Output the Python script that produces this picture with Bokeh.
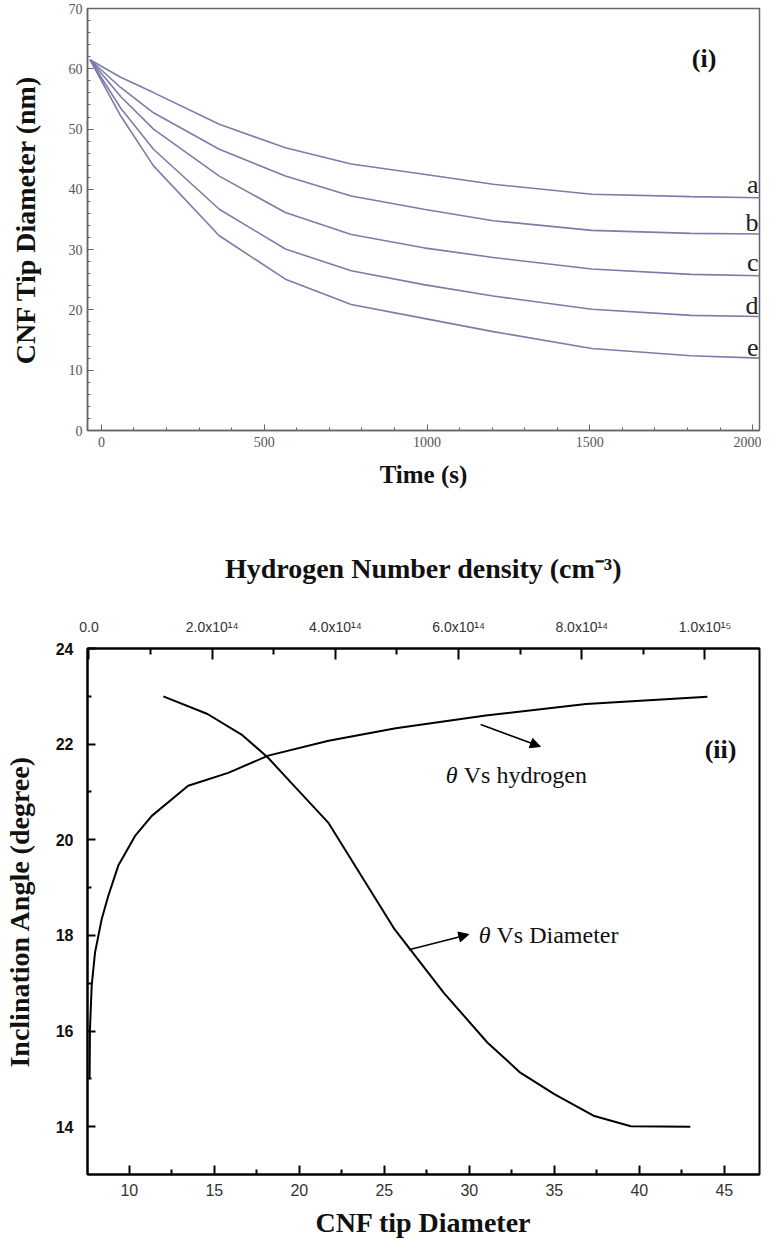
from bokeh.plotting import figure
from bokeh.models import Range1d, LinearAxis, FixedTicker, Label, Arrow, NormalHead
from bokeh.layouts import column
from bokeh.embed import file_html
from bokeh.resources import INLINE

# ---------------- Panel (i): CNF tip diameter vs time ----------------
time_s = [-35, 59, 160, 362, 565, 767, 990, 1203, 1506, 1810, 2030]
diam_a = [61.5, 58.6, 56.05, 50.8, 46.9, 44.2, 42.5, 40.85, 39.2, 38.8, 38.6]
diam_b = [61.5, 56.9, 52.7, 46.65, 42.2, 38.9, 36.7, 34.8, 33.2, 32.7, 32.6]
diam_c = [61.5, 55.4, 50.0, 42.2, 36.15, 32.5, 30.3, 28.7, 26.8, 25.9, 25.65]
diam_d = [61.5, 53.5, 46.65, 36.7, 30.1, 26.5, 24.2, 22.3, 20.1, 19.1, 18.9]
diam_e = [61.5, 52.2, 43.9, 32.3, 25.1, 20.9, 18.6, 16.4, 13.6, 12.4, 12.0]
curve_names = ["a", "b", "c", "d", "e"]
curve_label_y = [40.8, 34.5, 27.8, 20.7, 13.8]

time_major = [0, 500, 1000, 1500, 2000]
time_minor = [t for t in range(100, 2000, 100) if t % 500 != 0]
diam_major = [0, 10, 20, 30, 40, 50, 60, 70]
diam_minor = [v for v in range(2, 70, 2) if v % 10 != 0]

# ---------------- Panel (ii): inclination angle ----------------
diameter_nm = [12.0, 14.6, 16.6, 18.15, 19.5, 21.7, 25.6, 28.5, 31.06, 33.0, 35.0, 37.3, 39.5, 43.0]
theta_vs_diameter = [23.0, 22.63, 22.2, 21.72, 21.2, 20.36, 18.13, 16.8, 15.76, 15.13, 14.68, 14.23, 14.01, 14.0]

hydrogen_1e14 = [0.01, 0.016, 0.044, 0.098, 0.206, 0.314, 0.476, 0.748, 1.02, 1.61, 2.26, 2.91, 3.89, 4.98, 6.44, 8.07, 10.04]
theta_vs_hydrogen = [15.0, 16.04, 16.95, 17.64, 18.34, 18.83, 19.46, 20.08, 20.5, 21.13, 21.4, 21.76, 22.07, 22.33, 22.6, 22.84, 22.99]

dia_major = [10, 15, 20, 25, 30, 35, 40, 45]
dia_minor = [12.5, 17.5, 22.5, 27.5, 32.5, 37.5, 42.5]
ang_major = [14, 16, 18, 20, 22, 24]
ang_minor = [15, 17, 19, 21, 23]
h_major = [0, 2, 4, 6, 8, 10]
h_minor = [1, 3, 5, 7, 9]
h_labels = {0: "0.0", 2: "2.0x10\u00b9\u2074", 4: "4.0x10\u00b9\u2074", 6: "6.0x10\u00b9\u2074",
            8: "8.0x10\u00b9\u2074", 10: "1.0x10\u00b9\u2075"}

SERIF = "Liberation Serif"
SANS = "Liberation Sans"

# ================= figure 1 =================
p1 = figure(width=761, height=496, x_range=Range1d(-42.7, 2021), y_range=Range1d(0, 70),
            output_backend="svg", toolbar_location=None,
            min_border_left=82, min_border_right=2, min_border_top=8, min_border_bottom=66)
p1.grid.visible = False
p1.outline_line_color = "#666666"
p1.outline_line_width = 1.5

x1 = p1.below[0]
y1 = p1.left[0]
for ax in (x1, y1):
    ax.axis_line_color = "#666666"
    ax.axis_line_width = 1.5
    ax.major_tick_line_color = "#666666"
    ax.minor_tick_line_color = "#666666"
    ax.major_tick_out = 0
    ax.minor_tick_out = 0
    ax.major_tick_in = 6
    ax.minor_tick_in = 3
    ax.major_label_text_font = SERIF
    ax.major_label_text_font_size = "14px"
    ax.major_label_text_color = "#555555"
    ax.axis_label_text_font = SERIF
    ax.axis_label_text_font_style = "bold"
    ax.axis_label_text_color = "#111111"

x1.ticker = FixedTicker(ticks=time_major, minor_ticks=time_minor)
y1.ticker = FixedTicker(ticks=diam_major, minor_ticks=diam_minor)
x1.major_label_standoff = 6
y1.major_label_standoff = 5
x1.axis_label = "Time (s)"
x1.axis_label_text_font_size = "25px"
x1.axis_label_standoff = 11
y1.axis_label = "CNF Tip Diameter (nm)"
y1.axis_label_text_font_size = "28px"
y1.axis_label_standoff = 25

for ys in (diam_a, diam_b, diam_c, diam_d, diam_e):
    p1.line(time_s, ys, line_color="#7c7ca8", line_width=1.6)

for name, ly in zip(curve_names, curve_label_y):
    p1.add_layout(Label(x=2021, y=ly, text=name, text_align="right", text_baseline="middle",
                        x_offset=-1, text_font=SERIF, text_font_size="26px", text_color="#222222"))

p1.add_layout(Label(x=1851, y=61.7, text="(i)", text_align="center", text_baseline="middle",
                    text_font=SERIF, text_font_style="bold", text_font_size="26px", text_color="#111111"))

# ================= figure 2 =================
p2 = figure(width=761, height=746, x_range=Range1d(7.54, 47.07), y_range=Range1d(13.0, 24.0),
            output_backend="svg", toolbar_location=None,
            min_border_left=84, min_border_right=2, min_border_top=152, min_border_bottom=68)
p2.grid.visible = False
p2.outline_line_color = "black"
p2.outline_line_width = 2
p2.extra_x_ranges = {"h": Range1d(-0.024, 10.885)}

bx = p2.below[0]
ly_ax = p2.left[0]
top_axis = LinearAxis(x_range_name="h")
p2.add_layout(top_axis, "above")

for ax in (bx, ly_ax, top_axis):
    ax.axis_line_color = "black"
    ax.axis_line_width = 2
    ax.major_tick_line_color = "black"
    ax.minor_tick_line_color = "black"
    ax.major_tick_line_width = 2
    ax.minor_tick_line_width = 2
    ax.major_tick_out = 0
    ax.minor_tick_out = 0
    ax.axis_label_text_font = SERIF
    ax.axis_label_text_font_style = "bold"
    ax.axis_label_text_font_size = "28px"
    ax.axis_label_text_color = "#111111"
    ax.major_label_text_font = SANS

bx.ticker = FixedTicker(ticks=dia_major, minor_ticks=dia_minor)
bx.major_tick_in = 9
bx.minor_tick_in = 5
bx.major_label_text_font_size = "16px"
bx.major_label_text_color = "#333333"
bx.major_label_standoff = 9
bx.axis_label = "CNF tip Diameter"
bx.axis_label_standoff = 8

ly_ax.ticker = FixedTicker(ticks=ang_major, minor_ticks=ang_minor)
ly_ax.major_tick_in = 8
ly_ax.minor_tick_in = 4
ly_ax.major_label_text_font_size = "16px"
ly_ax.major_label_text_font_style = "bold"
ly_ax.major_label_text_color = "#111111"
ly_ax.major_label_standoff = 14
ly_ax.axis_label = "Inclination Angle (degree)"
ly_ax.axis_label_standoff = 18

top_axis.ticker = FixedTicker(ticks=h_major, minor_ticks=h_minor)
top_axis.major_label_overrides = h_labels
top_axis.major_tick_in = 11
top_axis.minor_tick_in = 6
top_axis.major_label_text_font_size = "14px"
top_axis.major_label_text_color = "#333333"
top_axis.major_label_standoff = 14
top_axis.axis_label = "Hydrogen Number density (cm\u207b\u00b3)"
top_axis.axis_label_standoff = 32

p2.line(diameter_nm, theta_vs_diameter, line_color="black", line_width=2)
p2.line(hydrogen_1e14, theta_vs_hydrogen, line_color="black", line_width=2, x_range_name="h")

head1 = NormalHead(size=10, fill_color="black", line_color="black", line_width=1)
p2.add_layout(Arrow(end=head1, x_start=30.67, y_start=22.41, x_end=34.18, y_end=21.95,
                    line_color="black", line_width=1.5))
head2 = NormalHead(size=10, fill_color="black", line_color="black", line_width=1)
p2.add_layout(Arrow(end=head2, x_start=26.45, y_start=17.70, x_end=29.97, y_end=18.02,
                    line_color="black", line_width=1.5))

for tx, ty, base in ((28.62, 21.36, "Vs hydrogen"), (30.55, 18.0, "Vs Diameter")):
    p2.add_layout(Label(x=tx, y=ty, text="\u03b8", text_align="left", text_baseline="middle",
                        text_font=SERIF, text_font_style="italic", text_font_size="24px",
                        text_color="#111111"))
    p2.add_layout(Label(x=tx + 1.05, y=ty, text=base, text_align="left", text_baseline="middle",
                        text_font=SERIF, text_font_size="24px", text_color="#111111"))

p2.add_layout(Label(x=44.78, y=21.89, text="(ii)", text_align="center", text_baseline="middle",
                    text_font=SERIF, text_font_style="bold", text_font_size="26px", text_color="#111111"))

layout = column(p1, p2)
open("out.html", "w").write(file_html(layout, INLINE))
